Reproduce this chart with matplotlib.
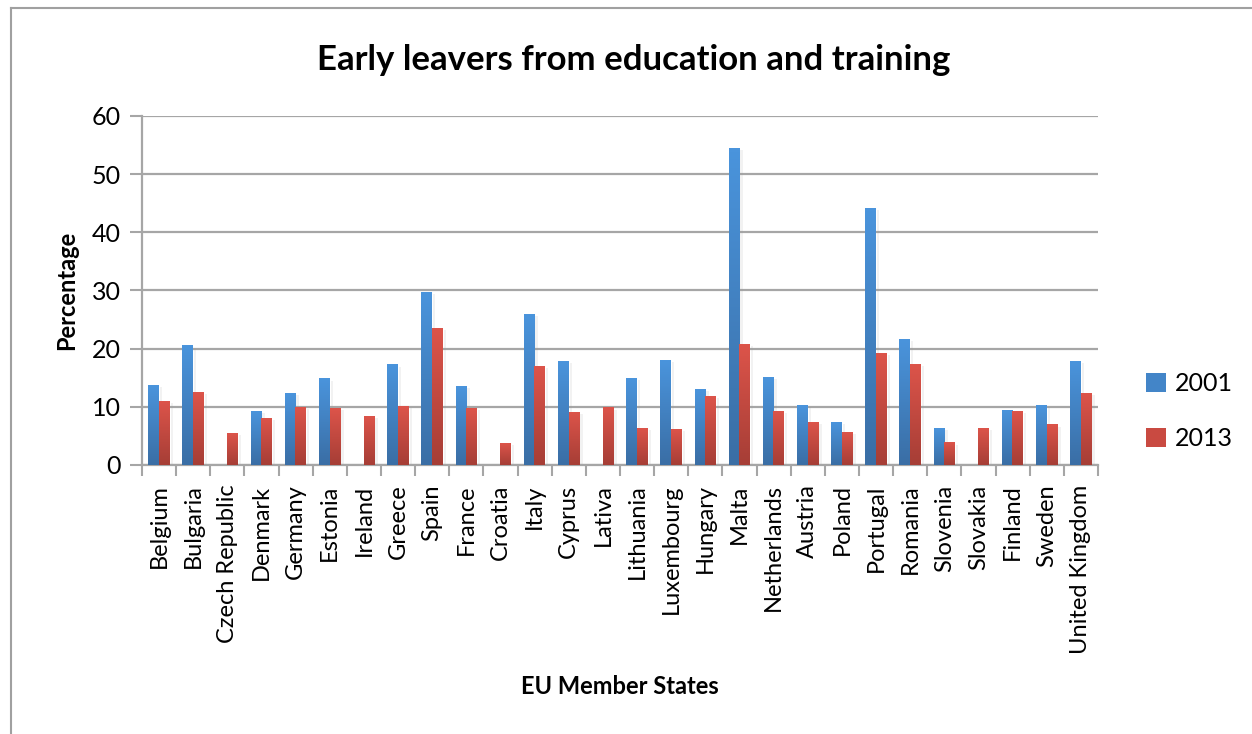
import numpy as np
import matplotlib.pyplot as plt
from matplotlib.colors import LinearSegmentedColormap
from matplotlib.lines import Line2D
from matplotlib.patches import Patch

plt.rcParams['font.family'] = ['Lato', 'DejaVu Sans']

countries = ['Belgium', 'Bulgaria', 'Czech Republic', 'Denmark', 'Germany', 'Estonia',
             'Ireland', 'Greece', 'Spain', 'France', 'Croatia', 'Italy', 'Cyprus', 'Lativa',
             'Lithuania', 'Luxembourg', 'Hungary', 'Malta', 'Netherlands', 'Austria',
             'Poland', 'Portugal', 'Romania', 'Slovenia', 'Slovakia', 'Finland', 'Sweden',
             'United Kingdom']
pct_2001 = [13.7, 20.5, np.nan, 9.2, 12.3, 14.8, np.nan, 17.2, 29.7, 13.5, np.nan, 25.9,
            17.8, np.nan, 14.9, 18.0, 13.0, 54.4, 15.0, 10.2, 7.3, 44.1, 21.6, 6.3,
            np.nan, 9.4, 10.2, 17.8]
pct_2013 = [10.9, 12.5, 5.4, 8.0, 9.9, 9.7, 8.4, 10.1, 23.5, 9.7, 3.7, 17.0, 9.1, 9.8,
            6.3, 6.1, 11.8, 20.7, 9.2, 7.3, 5.6, 19.2, 17.3, 3.8, 6.3, 9.2, 6.9, 12.3]
years = ['2001', '2013']

blue_cmap = LinearSegmentedColormap.from_list('blue', ['#3A6EA5', '#4A94DC'])
red_cmap = LinearSegmentedColormap.from_list('red', ['#A63E36', '#DC544A'])

W, H = 1252, 734
fig = plt.figure(figsize=(W / 100, H / 100), dpi=100)
ax = fig.add_axes([142 / W, 1 - 465 / H, (1098 - 142) / W, (465 - 116) / H])

x = np.arange(len(countries))
width = 0.32
grad = np.linspace(0, 1, 64).reshape(-1, 1)


def gradient_bars(offset, values, cmap):
    bars = ax.bar(x + offset, values, width, color='none', edgecolor='none', zorder=3)
    for b in bars:
        h = b.get_height()
        if not np.isfinite(h) or h <= 0:
            continue
        x0 = b.get_x()
        # soft shadow on the right side
        ax.bar(x0 + b.get_width() + 0.02, h - 0.3, 0.07, bottom=0, align='edge',
               color='#999999', alpha=0.12, edgecolor='none', zorder=2)
        ax.imshow(grad, extent=[x0, x0 + b.get_width(), 0, h], origin='lower',
                  cmap=cmap, aspect='auto', zorder=3, interpolation='bilinear')
    return bars


gradient_bars(-0.155, pct_2001, blue_cmap)
gradient_bars(0.155, pct_2013, red_cmap)

ax.set_xlim(-0.5, len(countries) - 0.5)
ax.set_ylim(0, 60)
ax.set_yticks(range(0, 61, 10))
ax.yaxis.grid(True, color='#A6A6A6', linewidth=1.6, zorder=0)
ax.set_axisbelow(True)

ax.set_xticks(x)
ax.set_xticklabels(countries, rotation=90, fontsize=17)
ax.set_xticks(np.arange(-0.5, len(countries)), minor=True)
ax.tick_params(axis='x', which='major', length=0, pad=14)
ax.tick_params(axis='x', which='minor', length=8, width=1.5, color='#A6A6A6')
ax.tick_params(axis='y', length=9, width=1.5, color='#A6A6A6', labelsize=18, pad=6)

for side in ['top', 'right']:
    ax.spines[side].set_visible(False)
for side in ['left', 'bottom']:
    ax.spines[side].set_color('#A6A6A6')
    ax.spines[side].set_linewidth(1.6)

ax.set_ylabel('Percentage', fontsize=17, fontweight='bold', labelpad=10)
fig.text(620 / W, 1 - 686 / H, 'EU Member States', fontsize=17, fontweight='bold',
         ha='center', va='center')
fig.text(634 / W, 1 - 60 / H, 'Early leavers from education and training', fontsize=25,
         fontweight='bold', ha='center', va='center')

handles = [Patch(facecolor='#4385C8'), Patch(facecolor='#C94A41')]
fig.legend(handles, years, loc='center left', bbox_to_anchor=(1146 / W, 1 - 411 / H),
           frameon=False, fontsize=18, handlelength=0.8, handleheight=0.8,
           handletextpad=0.35, labelspacing=1.3, borderpad=0, borderaxespad=0)

# chart frame
fig.add_artist(Line2D([10.5 / W, 10.5 / W], [0, 1 - 7.5 / H], color='#A0A0A0', lw=1.5))
fig.add_artist(Line2D([10.5 / W, 1], [1 - 7.5 / H, 1 - 7.5 / H], color='#A0A0A0', lw=1.5))

fig.savefig('out.png', dpi=100)
